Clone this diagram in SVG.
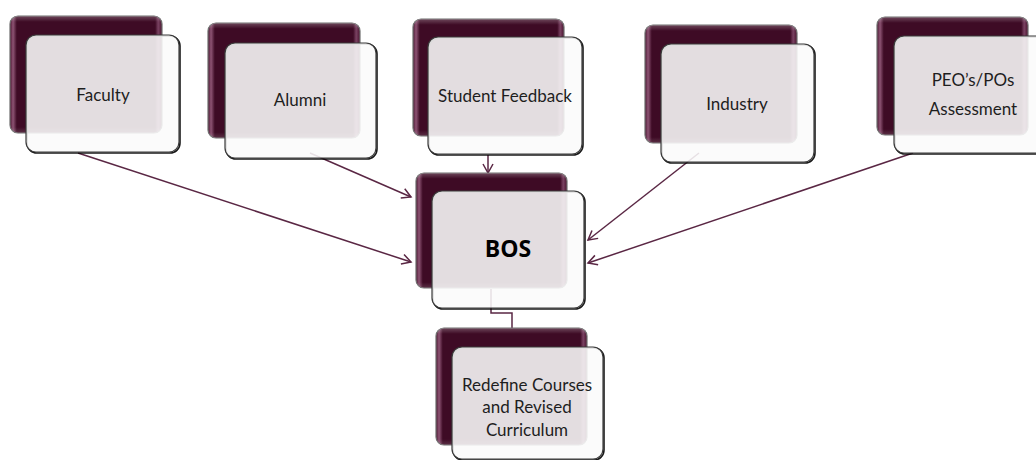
<svg xmlns="http://www.w3.org/2000/svg" width="1036" height="460" viewBox="0 0 1036 460">
<defs>
  <linearGradient id="darkGrad" x1="0" y1="0" x2="1" y2="0">
    <stop offset="0" stop-color="#4a1530"/>
    <stop offset="0.02" stop-color="#8e5474"/>
    <stop offset="0.045" stop-color="#3e0b25"/>
    <stop offset="0.955" stop-color="#3e0b25"/>
    <stop offset="0.975" stop-color="#7a4262"/>
    <stop offset="1" stop-color="#4a1530"/>
  </linearGradient>
  <linearGradient id="darkGradV" x1="0" y1="0" x2="0" y2="1">
    <stop offset="0" stop-color="#ffffff" stop-opacity="0.25"/>
    <stop offset="0.05" stop-color="#ffffff" stop-opacity="0"/>
    <stop offset="0.95" stop-color="#ffffff" stop-opacity="0"/>
    <stop offset="1" stop-color="#ffffff" stop-opacity="0.15"/>
  </linearGradient>
  <marker id="arrow" markerWidth="12" markerHeight="12" refX="10" refY="6" orient="auto" markerUnits="userSpaceOnUse">
    <path d="M1,1 L10,6 L1,11" fill="none" stroke="#5a2744" stroke-width="1.5"/>
  </marker>
</defs>
<style>
  .dark { fill: url(#darkGrad); stroke: #6e6e6e; stroke-width: 1.2; }
  .gloss { fill: url(#darkGradV); stroke: none; }
  .shadow { fill: none; stroke: #000000; stroke-width: 1.6; opacity: 0.9; }
  .light { fill: #fbfafb; fill-opacity: 0.88; stroke: #3a3a3a; stroke-width: 1.2; }
  .lbl { font-family: Lato, "Open Sans", "Liberation Sans", sans-serif; font-size: 17px; fill: #1e1e1e; text-anchor: middle; }
  .big { font-family: "Open Sans", Lato, "Liberation Sans", sans-serif; font-size: 23px; font-weight: bold; fill: #000000; text-anchor: middle; }
  .conn { fill: none; stroke: #5a2744; stroke-width: 1.5; }
</style>

<g id="connectors">
  <line class="conn" x1="78" y1="153" x2="411" y2="262" marker-end="url(#arrow)"/>
  <line class="conn" x1="310" y1="153" x2="411" y2="197" marker-end="url(#arrow)"/>
  <line class="conn" x1="488" y1="155" x2="488" y2="173" marker-end="url(#arrow)"/>
  <line class="conn" x1="699" y1="153" x2="588" y2="240" marker-end="url(#arrow)"/>
  <line class="conn" x1="913" y1="153" x2="588" y2="263" marker-end="url(#arrow)"/>
  <polyline class="conn" points="491,289 491,313 512,313 512,328"/>
</g>

<g id="node-faculty">
  <rect class="dark" x="10" y="16" width="152" height="117" rx="8"/>
  <rect class="gloss" x="10" y="16" width="152" height="117" rx="8"/>
  <rect class="shadow" x="27" y="36" width="153" height="117" rx="10"/>
  <rect class="light" x="26" y="35" width="153" height="117" rx="10"/>
  <text class="lbl" x="103" y="101">Faculty</text>
</g>

<g id="node-alumni">
  <rect class="dark" x="208" y="23" width="152" height="115" rx="8"/>
  <rect class="gloss" x="208" y="23" width="152" height="115" rx="8"/>
  <rect class="shadow" x="226" y="44" width="151" height="115" rx="10"/>
  <rect class="light" x="225" y="43" width="151" height="115" rx="10"/>
  <text class="lbl" x="300" y="106">Alumni</text>
</g>

<g id="node-student-feedback">
  <rect class="dark" x="413" y="19" width="151" height="117" rx="8"/>
  <rect class="gloss" x="413" y="19" width="151" height="117" rx="8"/>
  <rect class="shadow" x="429" y="38" width="154" height="117" rx="10"/>
  <rect class="light" x="428" y="37" width="154" height="117" rx="10"/>
  <text class="lbl" x="505" y="102">Student Feedback</text>
</g>

<g id="node-industry">
  <rect class="dark" x="645" y="25" width="152" height="118" rx="8"/>
  <rect class="gloss" x="645" y="25" width="152" height="118" rx="8"/>
  <rect class="shadow" x="662" y="45" width="153" height="118" rx="10"/>
  <rect class="light" x="661" y="44" width="153" height="118" rx="10"/>
  <text class="lbl" x="737" y="110">Industry</text>
</g>

<g id="node-peo">
  <rect class="dark" x="877" y="17" width="151" height="118" rx="8"/>
  <rect class="gloss" x="877" y="17" width="151" height="118" rx="8"/>
  <rect class="shadow" x="895" y="37" width="158" height="117" rx="10"/>
  <rect class="light" x="894" y="36" width="158" height="117" rx="10"/>
  <text class="lbl" x="973" y="86">PEO’s/POs</text>
  <text class="lbl" x="973" y="115">Assessment</text>
</g>

<g id="node-bos">
  <rect class="dark" x="416" y="173" width="151" height="115" rx="8"/>
  <rect class="gloss" x="416" y="173" width="151" height="115" rx="8"/>
  <rect class="shadow" x="433" y="192" width="152" height="117" rx="10"/>
  <rect class="light" x="432" y="191" width="152" height="117" rx="10"/>
  <text class="big" x="508" y="257">BOS</text>
</g>

<g id="node-redefine">
  <rect class="dark" x="436" y="328" width="151" height="117" rx="8"/>
  <rect class="gloss" x="436" y="328" width="151" height="117" rx="8"/>
  <rect class="shadow" x="453" y="348" width="151" height="112" rx="10"/>
  <rect class="light" x="452" y="347" width="151" height="112" rx="10"/>
  <text class="lbl" x="527" y="391">Redefine Courses</text>
  <text class="lbl" x="527" y="413">and Revised</text>
  <text class="lbl" x="527" y="436">Curriculum</text>
</g>
</svg>
